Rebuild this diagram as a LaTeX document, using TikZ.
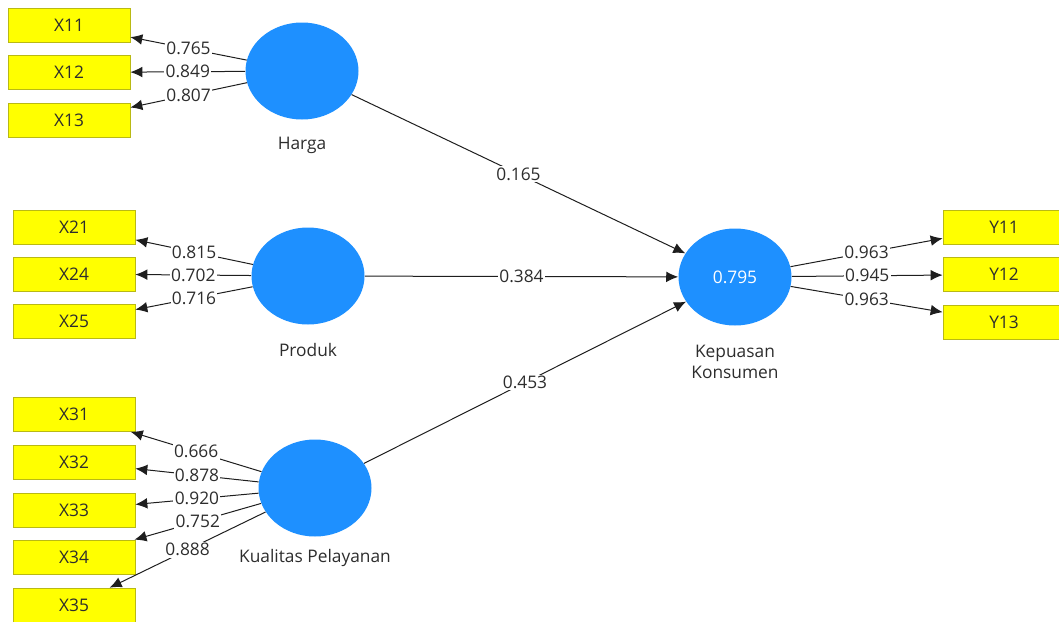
\documentclass[tikz,border=0pt]{standalone}
\usepackage{fontspec}
\setmainfont{Open Sans}
\usetikzlibrary{shapes.geometric,arrows.meta}
\definecolor{lvblue}{RGB}{30,144,255}
\definecolor{indyellow}{RGB}{255,255,0}
\definecolor{indborder}{RGB}{185,185,20}
\definecolor{txtgray}{RGB}{45,45,45}
\definecolor{linegray}{RGB}{30,30,30}
\tikzset{
  every node/.style={font=\fontsize{13pt}{15.5pt}\selectfont, text=txtgray},
  latent/.style={ellipse, fill=lvblue, draw=none, minimum width=84.75pt, minimum height=72.75pt, inner sep=0pt},
  indicator/.style={rectangle, fill=indyellow, draw=indborder, line width=0.5pt, minimum width=91.5pt, minimum height=25.5pt, inner sep=0pt},
  arr/.style={draw=linegray, line width=0.75pt, -{Latex[length=9pt,width=8pt]}},
  lab/.style={fill=white, inner sep=1pt, pos=0.5},
  lvname/.style={align=center}
}
\begin{document}
\begin{tikzpicture}[x=0.75pt,y=-0.75pt]
\useasboundingbox (0,0) rectangle (1059,621);
\clip (0,0) rectangle (1059,621);
% indicators
\node[indicator] (X11) at (69,25) {X11};
\node[indicator] (X12) at (69,72.5) {X12};
\node[indicator] (X13) at (69,120.5) {X13};
\node[indicator] (X21) at (74,227) {X21};
\node[indicator] (X24) at (74,274) {X24};
\node[indicator] (X25) at (74,321.5) {X25};
\node[indicator] (X31) at (74,414.5) {X31};
\node[indicator] (X32) at (74,462) {X32};
\node[indicator] (X33) at (74,510) {X33};
\node[indicator] (X34) at (74,557) {X34};
\node[indicator] (X35) at (74,605) {X35};
\node[indicator] (Y11) at (1004,227) {Y11};
\node[indicator] (Y12) at (1004,274.5) {Y12};
\node[indicator] (Y13) at (1004,322.5) {Y13};
% latent variables
\node[latent] (H) at (302,71) {};
\node[latent] (P) at (308,276) {};
\node[latent] (KP) at (315,488) {};
\node[latent] (KK) at (735,277) {\textcolor{white}{0.795}};
% names
\node[lvname] (Hn) at (302,145) {Harga};
\node[lvname] (Pn) at (308,350) {Produk};
\node[lvname] (KPn) at (315,558) {Kualitas Pelayanan};
\node[lvname] (KKn) at (735,362) {Kepuasan\\Konsumen};
% outer loadings
\draw[arr] (H) -- node[lab]{0.765} (X11);
\draw[arr] (H) -- node[lab]{0.849} (X12);
\draw[arr] (H) -- node[lab]{0.807} (X13);
\draw[arr] (P) -- node[lab]{0.815} (X21);
\draw[arr] (P) -- node[lab]{0.702} (X24);
\draw[arr] (P) -- node[lab]{0.716} (X25);
\draw[arr] (KP) -- node[lab]{0.666} (X31);
\draw[arr] (KP) -- node[lab]{0.878} (X32);
\draw[arr] (KP) -- node[lab]{0.920} (X33);
\draw[arr] (KP) -- node[lab]{0.752} (X34);
\draw[arr] (KP) -- node[lab]{0.888} (X35);
\draw[arr] (KK) -- node[lab]{0.963} (Y11);
\draw[arr] (KK) -- node[lab]{0.945} (Y12);
\draw[arr] (KK) -- node[lab]{0.963} (Y13);
% path coefficients
\draw[arr] (H) -- node[lab]{0.165} (KK);
\draw[arr] (P) -- node[lab]{0.384} (KK);
\draw[arr] (KP) -- node[lab]{0.453} (KK);
\end{tikzpicture}
\end{document}
